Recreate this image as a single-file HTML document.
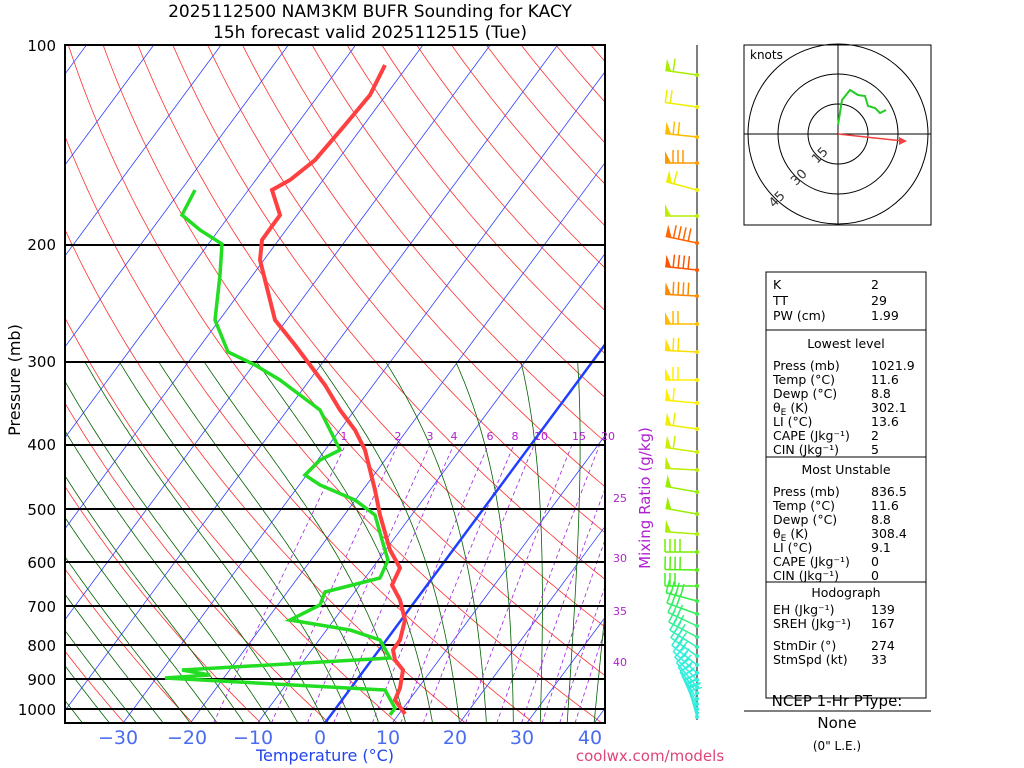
<!DOCTYPE html>
<html><head><meta charset="utf-8">
<style>
body{margin:0;background:#fff;width:1024px;height:768px;overflow:hidden;font-family:"DejaVu Sans","Liberation Sans",sans-serif;}
svg{position:absolute;left:0;top:0}
</style></head><body>
<svg id="s" width="1024" height="768" xmlns="http://www.w3.org/2000/svg" font-family="DejaVu Sans, Liberation Sans, sans-serif">
<defs><clipPath id="c"><rect x="65" y="45" width="540" height="678"/></clipPath></defs>
<g id="bg" clip-path="url(#c)"></g>
<g id="fg"></g>
<text x="370" y="17" font-size="17" text-anchor="middle">2025112500 NAM3KM BUFR Sounding for KACY</text>
<text x="370" y="38" font-size="17" text-anchor="middle">15h forecast valid 2025112515 (Tue)</text>
<g font-size="15" text-anchor="end">
<text x="56" y="51">100</text><text x="56" y="250">200</text><text x="56" y="367">300</text><text x="56" y="450">400</text><text x="56" y="515">500</text><text x="56" y="568">600</text><text x="56" y="612">700</text><text x="56" y="651">800</text><text x="56" y="685">900</text><text x="56" y="715">1000</text>
</g>
<text transform="translate(20,380) rotate(-90)" font-size="16" text-anchor="middle">Pressure (mb)</text>
<g font-size="19" fill="#4a6cf0" text-anchor="middle">
<text x="118" y="744">−30</text><text x="187" y="744">−20</text><text x="253" y="744">−10</text><text x="320" y="744">0</text><text x="388" y="744">10</text><text x="455" y="744">20</text><text x="522" y="744">30</text><text x="590" y="744">40</text>
</g>
<text x="325" y="761" font-size="16" fill="#2244ee" text-anchor="middle">Temperature (°C)</text>
<text x="650" y="761" font-size="15" fill="#e0447a" text-anchor="middle">coolwx.com/models</text>
<text transform="translate(650,498) rotate(-90)" font-size="15" fill="#b020d0" text-anchor="middle">Mixing Ratio (g/kg)</text>
<g font-size="11" fill="#b020d0" text-anchor="middle">
<text x="344" y="440">1</text><text x="398" y="440">2</text><text x="430" y="440">3</text><text x="454" y="440">4</text><text x="490" y="440">6</text><text x="515" y="440">8</text><text x="541" y="440">10</text><text x="579" y="440">15</text><text x="608" y="440">20</text>
<text x="620" y="502">25</text><text x="620" y="562">30</text><text x="620" y="615">35</text><text x="620" y="666">40</text>
</g>
<rect x="744" y="45" width="187" height="180" fill="none" stroke="#000"/>
<text x="750" y="59" font-size="12">knots</text>
<g fill="none" stroke="#000">
<circle cx="838" cy="134" r="30"/><circle cx="838" cy="134" r="60"/><circle cx="838" cy="134" r="90"/>
<line x1="744" y1="134" x2="931" y2="134"/><line x1="838" y1="45" x2="838" y2="225"/>
</g>
<g font-size="13" fill="#333"><text x="812" y="162" transform="rotate(-45 817 157)">15</text><text x="791" y="184" transform="rotate(-45 796 179)">30</text><text x="769" y="206" transform="rotate(-45 774 201)">45</text></g>
<polyline points="838,125 842,100 850,90 858,95 865,96 868,106 875,108 880,113 886,110" fill="none" stroke="#22cc22" stroke-width="2"/>
<line x1="838" y1="134" x2="903" y2="141" stroke="#f04040" stroke-width="1.5"/>
<polygon points="907,141 899,137 899,145" fill="#f04040"/>
<rect x="766" y="272" width="160" height="426" fill="none" stroke="#000"/>
<g stroke="#000"><line x1="766" y1="330" x2="926" y2="330"/><line x1="766" y1="457" x2="926" y2="457"/><line x1="766" y1="582" x2="926" y2="582"/></g>
<g font-size="12.5">
<text x="773" y="289">K</text><text x="871" y="289">2</text>
<text x="773" y="305">TT</text><text x="871" y="305">29</text>
<text x="773" y="320">PW (cm)</text><text x="871" y="320">1.99</text>
<text x="846" y="348" text-anchor="middle">Lowest level</text>
<text x="773" y="370">Press (mb)</text><text x="871" y="370">1021.9</text>
<text x="773" y="384">Temp (°C)</text><text x="871" y="384">11.6</text>
<text x="773" y="398">Dewp (°C)</text><text x="871" y="398">8.8</text>
<text x="773" y="412">θ<tspan font-size="9" dy="3">E</tspan><tspan dy="-3"> (K)</tspan></text><text x="871" y="412">302.1</text>
<text x="773" y="426">LI (°C)</text><text x="871" y="426">13.6</text>
<text x="773" y="440">CAPE (Jkg⁻¹)</text><text x="871" y="440">2</text>
<text x="773" y="454">CIN (Jkg⁻¹)</text><text x="871" y="454">5</text>
<text x="846" y="474" text-anchor="middle">Most Unstable</text>
<text x="773" y="496">Press (mb)</text><text x="871" y="496">836.5</text>
<text x="773" y="510">Temp (°C)</text><text x="871" y="510">11.6</text>
<text x="773" y="524">Dewp (°C)</text><text x="871" y="524">8.8</text>
<text x="773" y="538">θ<tspan font-size="9" dy="3">E</tspan><tspan dy="-3"> (K)</tspan></text><text x="871" y="538">308.4</text>
<text x="773" y="552">LI (°C)</text><text x="871" y="552">9.1</text>
<text x="773" y="566">CAPE (Jkg⁻¹)</text><text x="871" y="566">0</text>
<text x="773" y="580">CIN (Jkg⁻¹)</text><text x="871" y="580">0</text>
<text x="846" y="597" text-anchor="middle">Hodograph</text>
<text x="773" y="614">EH (Jkg⁻¹)</text><text x="871" y="614">139</text>
<text x="773" y="628">SREH (Jkg⁻¹)</text><text x="871" y="628">167</text>
<text x="773" y="650">StmDir (°)</text><text x="871" y="650">274</text>
<text x="773" y="664">StmSpd (kt)</text><text x="871" y="664">33</text>
</g>
<text x="837" y="706" font-size="15" text-anchor="middle">NCEP 1-Hr PType:</text>
<line x1="744" y1="711" x2="931" y2="711" stroke="#000"/>
<text x="837" y="728" font-size="15" text-anchor="middle">None</text>
<text x="837" y="750" font-size="12" text-anchor="middle">(0" L.E.)</text>
</svg>
<script>
var NS="http://www.w3.org/2000/svg",bg=document.getElementById('bg'),fg=document.getElementById('fg');
var SK=0.74;
function Y(p){return 45+288.4*Math.log(p/100);}
function X(T,p){var y=Y(p);return 325+6.73*T+SK*(723-y);}
function pl(g,pts,st,w,dash){var e=document.createElementNS(NS,'polyline');e.setAttribute('points',pts.map(function(a){return a[0].toFixed(1)+','+a[1].toFixed(1)}).join(' '));e.setAttribute('fill','none');e.setAttribute('stroke',st);e.setAttribute('stroke-width',w);if(dash)e.setAttribute('stroke-dasharray',dash);g.appendChild(e);}
function line(g,x1,y1,x2,y2,c,w){var e=document.createElementNS(NS,'line');e.setAttribute('x1',x1);e.setAttribute('y1',y1);e.setAttribute('x2',x2);e.setAttribute('y2',y2);e.setAttribute('stroke',c);e.setAttribute('stroke-width',w||1);g.appendChild(e);}
function poly(g,pts,c){var e=document.createElementNS(NS,'polygon');e.setAttribute('points',pts.map(function(a){return a.join(',')}).join(' '));e.setAttribute('fill',c);g.appendChild(e);}
var ps=[];for(var p=1050;p>=99;p-=5)ps.push(p);
for(var th=200;th<=620;th+=10){(function(th){pl(bg,ps.map(function(p){return[X(th*Math.pow(p/1000,0.286)-273.15,p),Y(p)]}),'#ff3030',0.8);})(th);}
for(var t=-140;t<=50;t+=10){if(t==0)continue;pl(bg,[[X(t,1050),Y(1050)],[X(t,99),Y(99)]],'#3040ff',0.8);}
function es(T){return 6.112*Math.exp(17.67*T/(T+243.5));}
function ws(T,p){var e=es(T);return 0.622*e/(p-e);}
var Rd=287,cp=1004,L=2.5e6;
for(var t0=-44;t0<=40;t0+=4){var T=t0,pts=[];for(var p=1050;p>=300;p-=2){pts.push([X(T,p),Y(p)]);var Tk=T+273.15,w=ws(T,p);
var dTdp=(Rd*Tk/p)*(1+L*w/(Rd*Tk))/(cp+L*L*w*0.622/(Rd*Tk*Tk));T-=dTdp*2;}pl(bg,pts,'#006000',0.8);}
[1,2,3,4,6,8,10,15,20,25,30,35,40].forEach(function(w){var pts=[];for(var p=1050;p>=400;p-=10){var e=w/1000*p/(0.622+w/1000);var l=Math.log(e/6.112);var T=243.5*l/(17.67-l);pts.push([X(T,p),Y(p)]);}pl(bg,pts,'#a020e0',0.8,'4,3');});
pl(bg,[[X(0,1050),Y(1050)],[X(0,99),Y(99)]],'#2040ff',2.5);
var g=fg;
[100,200,300,400,500,600,700,800,900,1000].forEach(function(p){var y=Math.round(Y(p));line(g,65,y,605,y,'#000',2);});
var r=document.createElementNS(NS,'rect');r.setAttribute('x',65);r.setAttribute('y',45);r.setAttribute('width',540);r.setAttribute('height',678);r.setAttribute('fill','none');r.setAttribute('stroke','#000');r.setAttribute('stroke-width',2);g.appendChild(r);
pl(g,[[405,714],[395,700],[400,688],[403,670],[395,660],[393,650],[400,640],[405,620],[400,600],[392,585],[400,568],[390,550],[380,515],[375,490],[370,470],[365,450],[355,430],[340,410],[325,385],[310,365],[295,345],[275,320],[265,280],[260,260],[262,240],[280,215],[272,190],[290,180],[315,160],[345,125],[370,95],[385,65]],'#ff4040',4);
pl(g,[[390,715],[395,708],[385,690],[165,678],[210,675],[182,670],[390,658],[380,640],[350,630],[290,620],[320,605],[325,592],[380,578],[388,560],[382,540],[375,515],[355,500],[320,485],[305,475],[320,460],[340,450],[330,430],[320,410],[300,395],[280,380],[255,365],[228,352],[215,320],[220,275],[222,244],[200,230],[182,215],[195,190]],'#22dd22',3.5);
line(g,697,45,697,720,'#555',1.5);
// barbs: [y, angle(deg from horizontal, staff toward left-up), color, pennant, nbarbs]
var B=[[75,8,'#aaee00',1,1],[107,8,'#eeee00',0,2],[137,6,'#ffbb00',1,2],[163,0,'#ff9900',1,3],[190,15,'#eeee00',1,1],[216,0,'#bbee00',1,0],[243,12,'#ff6600',1,4],[270,6,'#ff5500',1,4],[296,3,'#ff8800',1,4],[324,0,'#ffbb00',1,2],[352,3,'#ffdd00',1,2],[380,0,'#ffee00',1,2],[403,5,'#ffee00',1,1],[429,8,'#eeee00',1,1],[452,8,'#ccee00',1,1],[470,3,'#bbee00',1,0],[492,10,'#99ee00',1,0],[514,10,'#99ee00',1,0],[534,4,'#aaee00',1,0],[552,0,'#77ee00',0,4],[570,1,'#55ee11',0,4],[586,0,'#44ee22',0,3],[601,15,'#33ee44',0,4],[614,20,'#33ee55',0,3],[626,25,'#33ee77',0,3],[637,28,'#33ee88',0,3],[647,32,'#33eeaa',0,3],[656,35,'#33eebb',0,3],[665,38,'#33eecc',0,3],[673,42,'#33eedd',0,3],[680,46,'#33eedd',0,3],[687,50,'#33eedd',0,3],[693,54,'#33eedd',0,3],[699,58,'#33eedd',0,3],[704,62,'#33eedd',0,3],[709,66,'#33eedd',0,3],[713,70,'#33eedd',0,2],[717,74,'#33eedd',0,2]];
B.forEach(function(b){var y=b[0],a=b[1]*Math.PI/180,c=b[2],len=32;var ux=-Math.cos(a),uy=-Math.sin(a);var ex=697+ux*len,ey=y+uy*len;
line(g,697,y,ex,ey,c,1.5);var nx=uy,ny=-ux; // perpendicular (up)
if(nx>0){nx=-nx;ny=-ny;}
nx=-uy;ny=ux; if(ny>0){nx=-nx;ny=-ny;}
var pos=0;if(b[3]){poly(g,[[ex,ey],[ex-ux*6,ey-uy*6],[ex+nx*12,ey+ny*12]],c);pos=8;}
for(var k=0;k<b[4];k++){var bx=ex-ux*(pos+k*5),by=ey-uy*(pos+k*5);line(g,bx,by,bx+nx*13,by+ny*13,c,1.5);}
var d=document.createElementNS(NS,'circle');d.setAttribute('cx',697);d.setAttribute('cy',y);d.setAttribute('r',2);d.setAttribute('fill',c);g.appendChild(d);});
</script>
</body></html>
